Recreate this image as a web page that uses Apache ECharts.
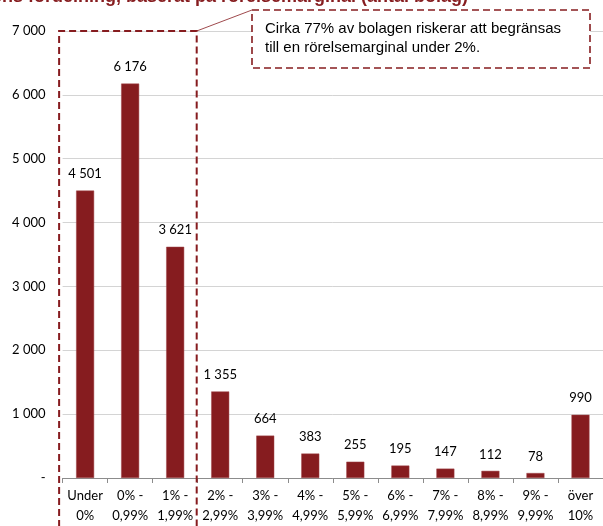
<!DOCTYPE html>
<html>
<head>
<meta charset="utf-8">
<script src="https://cdn.jsdelivr.net/npm/echarts@6/dist/echarts.min.js"></script>
<style>
  html, body { margin: 0; padding: 0; background: #fff; }
  #chart { width: 603px; height: 526px; }
</style>
</head>
<body>
<div id="chart"></div>
<script>
// data
const categories = ['Under\n0%', '0% -\n0,99%', '1% -\n1,99%', '2% -\n2,99%', '3% -\n3,99%', '4% -\n4,99%',
    '5% -\n5,99%', '6% -\n6,99%', '7% -\n7,99%', '8% -\n8,99%', '9% -\n9,99%', 'över\n10%'];
const antalBolag = [4501, 6176, 3621, 1355, 664, 383, 255, 195, 147, 112, 78, 990];
const yTicks = { min: 0, max: 7000, interval: 1000 };
const titleText = 'Bolagens fördelning, baserat på rörelsemarginal (antal bolag)';
const calloutLines = ['Cirka 77% av bolagen riskerar att begränsas', 'till en rörelsemarginal under 2%.'];

const RED = '#861c1f';
const numFont = 'Lato, "Noto Sans", sans-serif';

const fmt = (v) => v === 0 ? '-' : String(v).replace(/\B(?=(\d{3})+(?!\d))/g, ' ');

const chart = echarts.init(document.getElementById('chart'));

chart.setOption({
    animation: false,
    title: {
        text: titleText,
        left: -63,
        top: -17,
        textStyle: { color: RED, fontSize: 18, fontWeight: 'bold', fontFamily: '"Liberation Sans", Arial, sans-serif' }
    },
    grid: { left: 62.6, right: -3.3, top: 31, bottom: 47, containLabel: false },
    xAxis: {
        type: 'category',
        data: categories,
        axisLine: { lineStyle: { color: '#8c8c8c', width: 1 } },
        axisTick: { show: true, length: 5, lineStyle: { color: '#8c8c8c' } },
        axisLabel: {
            interval: 0,
            margin: 8,
            color: '#000',
            fontSize: 13,
            lineHeight: 20,
            fontFamily: numFont
        }
    },
    yAxis: {
        type: 'value',
        min: yTicks.min,
        max: yTicks.max,
        interval: yTicks.interval,
        axisLine: { show: false },
        axisTick: { show: false },
        splitLine: { lineStyle: { color: '#d4d4d4', width: 1 } },
        axisLabel: {
            margin: 17,
            color: '#000',
            fontSize: 13,
            fontFamily: numFont,
            formatter: fmt
        }
    },
    series: [{
        type: 'bar',
        data: antalBolag,
        barWidth: 18,
        itemStyle: { color: RED, borderColor: '#a0474a', borderWidth: 0.5 },
        label: {
            show: true,
            position: 'top',
            distance: 10,
            color: '#000',
            fontSize: 13,
            fontFamily: numFont,
            formatter: (p) => fmt(p.value)
        }
    }]
});

// dashed frame round the first three bars, and the callout box, placed from the axes
const boxLeft = chart.convertToPixel({ xAxisIndex: 0 }, 0) - 26;
const boxRight = (chart.convertToPixel({ xAxisIndex: 0 }, 2) + chart.convertToPixel({ xAxisIndex: 0 }, 3)) / 2 - 1;
const boxTop = chart.convertToPixel({ yAxisIndex: 0 }, yTicks.max);

const calloutX = 252, calloutY = 10, calloutW = 338, calloutH = 58;

chart.setOption({
    graphic: [
        {
            type: 'polyline',
            z: 100,
            shape: { points: [[boxLeft, 560], [boxLeft, boxTop], [boxRight, boxTop], [boxRight, 560]] },
            style: { stroke: RED, lineWidth: 2, lineDash: [7, 4], fill: null }
        },
        {
            type: 'line',
            z: 100,
            shape: { x1: boxRight, y1: boxTop, x2: calloutX, y2: calloutY },
            style: { stroke: RED, lineWidth: 0.8 }
        },
        {
            type: 'rect',
            z: 100,
            shape: { x: calloutX, y: calloutY, width: calloutW, height: calloutH },
            style: { fill: '#fff', stroke: RED, lineWidth: 1.6, lineDash: [7, 4] }
        },
        {
            type: 'text',
            z: 101,
            x: calloutX + 13,
            y: calloutY + 9,
            style: {
                text: calloutLines.join('\n'),
                fill: '#000',
                fontSize: 15,
                lineHeight: 19,
                fontFamily: '"Liberation Sans", Arial, sans-serif'
            }
        }
    ]
});
</script>
</body>
</html>
